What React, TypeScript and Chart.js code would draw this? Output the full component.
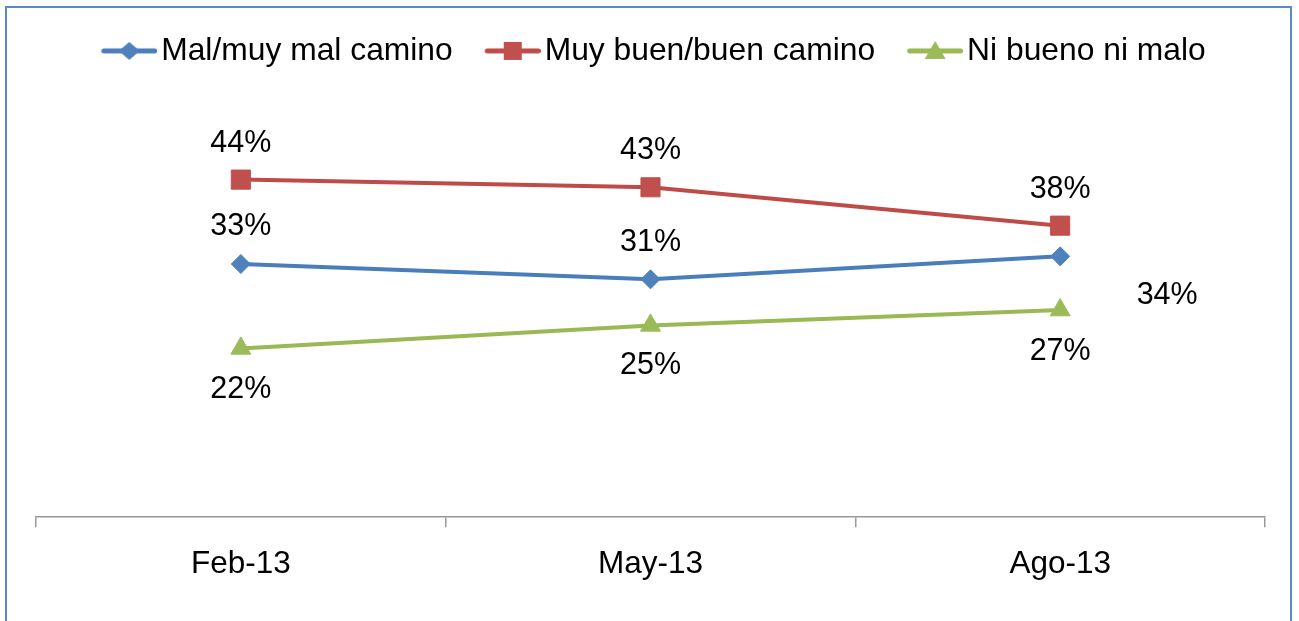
import React, { useEffect, useRef } from 'react';
import { Chart, registerables } from 'chart.js';

Chart.register(...registerables);

// ---- data ----
const categories = ['Feb-13', 'May-13', 'Ago-13'];
const seriesNames = ['Mal/muy mal camino', 'Muy buen/buen camino', 'Ni bueno ni malo'];
const malValues = [33, 31, 34];
const buenValues = [44, 43, 38];
const niValues = [22, 25, 27];
const yMin = 0;
const yMax = 57.4;

// ---- styles ----
const FONT = '"Liberation Sans", Arial, Helvetica, sans-serif';
const lineColors = ['#4A7EBB', '#BE4B48', '#98B954'];
const markerColors = ['#4F81BD', '#C0504D', '#9BBB59'];
const pointStyles = ['rectRot', 'rect', 'triangle'] as const;
const pointRadii = [9.5, 13.5, 11.5];
// label offsets (dx, dy) relative to each point
const labelOffsets = [
  [[0, -37.5], [0, -36.5], [107, 39.5]],
  [[0, -36.5], [0, -36.5], [0, -36.5]],
  [[0, 41.5], [0, 40.5], [0, 41.5]],
];

const LEGEND_FONT = 31.8;
const LEGEND_BOX_W = 66;
const LEGEND_IMG_W = 90;

function makeLegendIcon(i: number): HTMLCanvasElement {
  const c = document.createElement('canvas');
  c.width = LEGEND_IMG_W;
  c.height = 28;
  const ctx = c.getContext('2d')!;
  const x1 = LEGEND_IMG_W;
  const x0 = x1 - 56;
  const cy = 14;
  const cx = x0 + 28;
  ctx.strokeStyle = lineColors[i];
  ctx.lineWidth = 5;
  ctx.lineCap = 'round';
  ctx.beginPath();
  ctx.moveTo(x0 + 2.5, cy);
  ctx.lineTo(x1 - 2.5, cy);
  ctx.stroke();
  ctx.fillStyle = markerColors[i];
  ctx.beginPath();
  if (pointStyles[i] === 'rectRot') {
    ctx.moveTo(cx - 10.5, cy);
    ctx.lineTo(cx, cy - 9);
    ctx.lineTo(cx + 10.5, cy);
    ctx.lineTo(cx, cy + 9);
  } else if (pointStyles[i] === 'rect') {
    ctx.rect(cx - 9, cy - 9, 18, 18);
  } else {
    ctx.moveTo(cx, cy - 10);
    ctx.lineTo(cx + 10.5, cy + 8);
    ctx.lineTo(cx - 10.5, cy + 8);
  }
  ctx.closePath();
  ctx.fill();
  return c;
}

const dataLabelPlugin = {
  id: 'dataLabels',
  afterDatasetsDraw(chart: any) {
    const ctx = chart.ctx;
    ctx.save();
    ctx.font = `30.5px ${FONT}`;
    ctx.fillStyle = '#000000';
    ctx.textAlign = 'center';
    ctx.textBaseline = 'middle';
    chart.data.datasets.forEach((ds: any, di: number) => {
      const meta = chart.getDatasetMeta(di);
      meta.data.forEach((pt: any, pi: number) => {
        const [dx, dy] = labelOffsets[di][pi];
        ctx.fillText(`${ds.data[pi]}%`, pt.x + dx, pt.y + dy);
      });
    });
    ctx.restore();
  },
};

export default function App() {
  const canvasRef = useRef<HTMLCanvasElement | null>(null);

  useEffect(() => {
    const canvas = canvasRef.current;
    if (!canvas) return;
    const icons = [0, 1, 2].map(makeLegendIcon);
    const seriesValues = [malValues, buenValues, niValues];
    const chart = new Chart(canvas, {
      type: 'line',
      data: {
        labels: categories,
        datasets: seriesValues.map((vals, i) => ({
          label: seriesNames[i],
          data: vals,
          borderColor: lineColors[i],
          backgroundColor: markerColors[i],
          borderWidth: 4,
          pointStyle: pointStyles[i],
          pointRadius: pointRadii[i],
          pointHoverRadius: pointRadii[i],
          pointBackgroundColor: markerColors[i],
          pointBorderColor: markerColors[i],
          pointBorderWidth: 1,
          tension: 0,
          fill: false,
        })),
      },
      options: {
        responsive: false,
        animation: false,
        events: [],
        layout: { padding: { left: 20, right: 34, top: 25, bottom: 20 } },
        plugins: {
          tooltip: { enabled: false },
          legend: {
            display: true,
            position: 'top',
            align: 'center',
            labels: {
              usePointStyle: true,
              pointStyleWidth: LEGEND_BOX_W,
              padding: 10,
              color: '#000000',
              font: { family: FONT, size: LEGEND_FONT },
              generateLabels: (ch: any) => {
                const items = Chart.defaults.plugins.legend.labels.generateLabels(ch);
                return items.map((it: any, i: number) => ({ ...it, pointStyle: icons[i] }));
              },
            },
          },
        },
        scales: {
          x: {
            type: 'category',
            offset: true,
            grid: {
              display: true,
              offset: true,
              drawOnChartArea: false,
              drawTicks: true,
              tickLength: 10,
              color: '#989898',
              lineWidth: 1.5,
            },
            border: { display: true, color: '#989898', width: 1.5 },
            ticks: {
              color: '#000000',
              font: { family: FONT, size: 31.5 },
              padding: 18,
              maxRotation: 0,
              autoSkip: false,
            },
          },
          y: {
            position: 'left',
            min: yMin,
            max: yMax,
            grid: { display: false },
            border: { display: false },
            ticks: { display: false },
            afterFit: (scale: any) => {
              scale.width = 16;
            },
          },
        },
      },
      plugins: [dataLabelPlugin],
    } as any);
    return () => chart.destroy();
  }, []);

  return (
    <div
      style={{
        position: 'fixed',
        left: 0,
        top: 0,
        width: 1299,
        height: 621,
        background: '#ffffff',
        overflow: 'hidden',
      }}
    >
      <canvas ref={canvasRef} width={1299} height={621} style={{ position: 'absolute', left: 0, top: 0 }} />
      <div
        style={{
          position: 'absolute',
          left: 5,
          top: 6,
          width: 1287,
          height: 700,
          border: '2px solid #5A8AC6',
          boxSizing: 'border-box',
          pointerEvents: 'none',
        }}
      />
    </div>
  );
}
